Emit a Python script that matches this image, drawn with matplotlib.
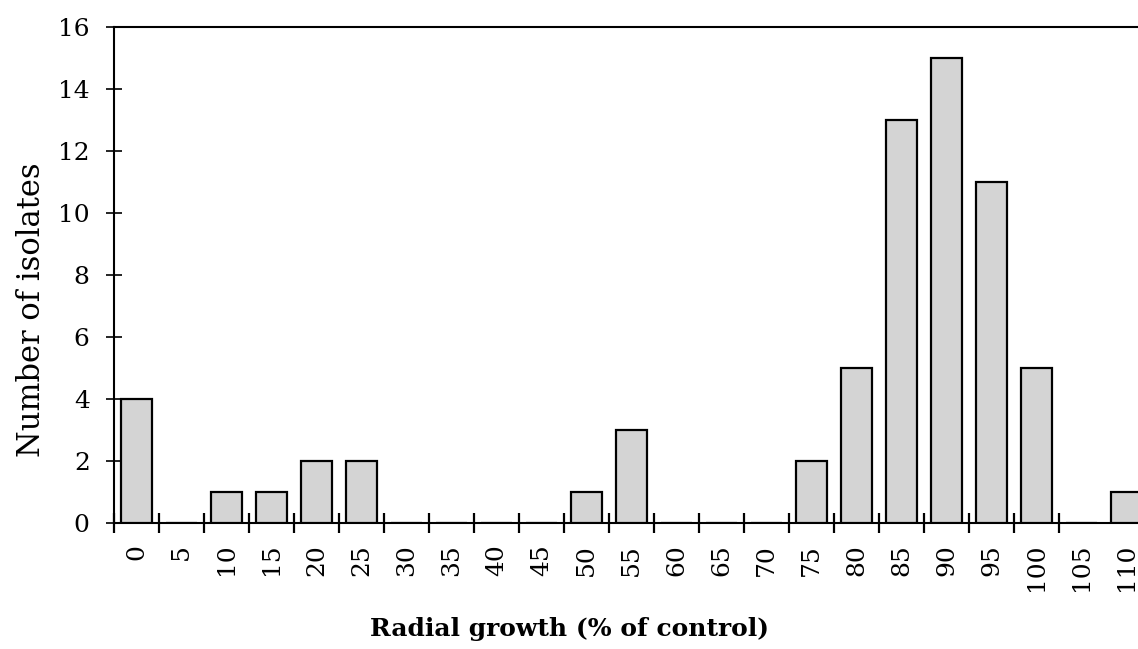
import matplotlib.pyplot as plt
import numpy as np

# Radial growth classes (% of control) and number of isolates in each
growth_classes = [0, 5, 10, 15, 20, 25, 30, 35, 40, 45, 50, 55,
                  60, 65, 70, 75, 80, 85, 90, 95, 100, 105, 110]
isolates = [4, 0, 1, 1, 2, 2, 0, 0, 0, 0, 1, 3,
            0, 0, 0, 2, 5, 13, 15, 11, 5, 0, 1]
y_ticks = [0, 2, 4, 6, 8, 10, 12, 14, 16]

plt.rcParams['font.family'] = ['DejaVu Serif']

fig = plt.figure(figsize=(11.38, 6.49), dpi=100)
ax = fig.add_axes([114 / 1138, 126 / 649, 1 - 114 / 1138, (523 - 27) / 649])

x = np.arange(len(growth_classes))
ax.bar(x, isolates, width=0.69, color='#d4d4d4', edgecolor='black', linewidth=1.6, zorder=3)

ax.set_xlim(-0.5, 22.25)
ax.set_ylim(0, 16)

# category labels under the bars, tick marks between the bars
ax.set_xticks(x)
ax.set_xticklabels([str(g) for g in growth_classes], rotation=90, fontsize=18)
ax.tick_params(axis='x', which='major', length=0, pad=15)
ax.set_xticks(np.arange(len(growth_classes) - 1) - 0.5, minor=True)
ax.tick_params(axis='x', which='minor', direction='inout', length=15, width=1.6)

ax.set_yticks(y_ticks)
ax.set_yticklabels([str(v) for v in y_ticks], fontsize=18)
ax.tick_params(axis='y', direction='inout', length=11, width=1.2, pad=12)

for side in ['left', 'bottom', 'top']:
    ax.spines[side].set_linewidth(1.5)
ax.spines['right'].set_visible(False)

ax.set_xlabel('Radial growth (% of control)', fontsize=18, fontweight='bold')
ax.set_ylabel('Number of isolates', fontsize=22)
ax.xaxis.set_label_coords(0.445, -0.19)
ax.yaxis.set_label_coords(-0.065, 0.43)

fig.savefig('out.png', dpi=100)
